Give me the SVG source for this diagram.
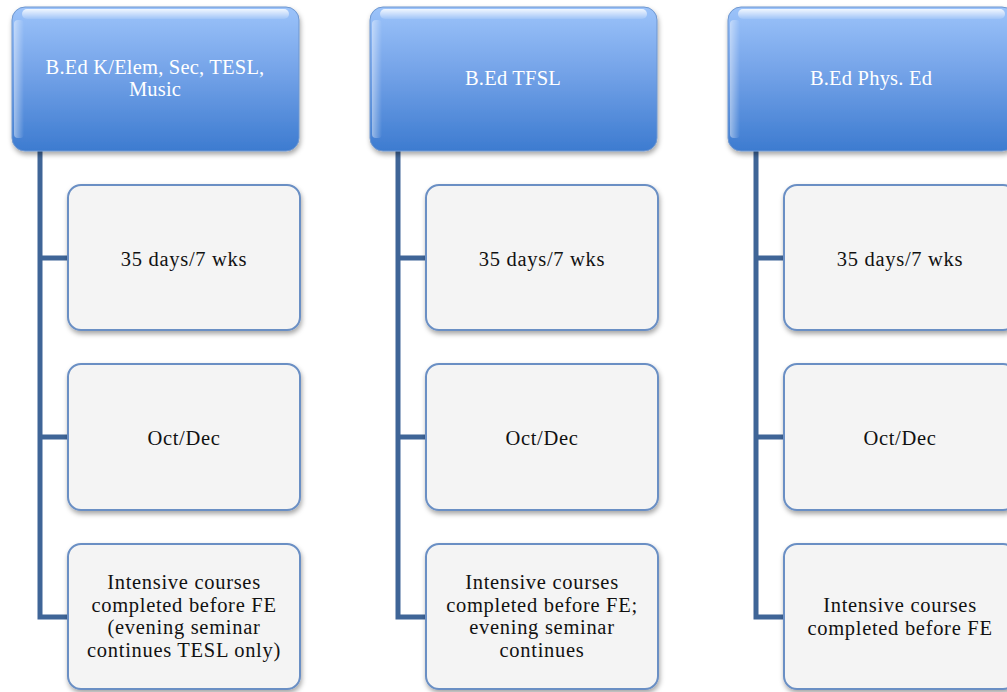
<svg xmlns="http://www.w3.org/2000/svg" width="1007" height="692" viewBox="0 0 1007 692">
  <defs>
    <linearGradient id="hdrFill" x1="0" y1="0" x2="0" y2="1">
      <stop offset="0" stop-color="#9cc3fa"/>
      <stop offset="0.45" stop-color="#74a3e8"/>
      <stop offset="1" stop-color="#3d7bd0"/>
    </linearGradient>
    <linearGradient id="gloss" x1="0" y1="0" x2="0" y2="1">
      <stop offset="0" stop-color="#ffffff" stop-opacity="0.85"/>
      <stop offset="1" stop-color="#ffffff" stop-opacity="0.1"/>
    </linearGradient>
    <linearGradient id="sideGloss" x1="0" y1="0" x2="1" y2="0">
      <stop offset="0" stop-color="#ffffff" stop-opacity="0.45"/>
      <stop offset="1" stop-color="#ffffff" stop-opacity="0"/>
    </linearGradient>
    <filter id="shadow" x="-10%" y="-10%" width="125%" height="130%">
      <feDropShadow dx="1" dy="3" stdDeviation="2.5" flood-color="#000000" flood-opacity="0.35"/>
    </filter>
  </defs>
  <style>
    .hdr { fill: url(#hdrFill); stroke: #6f97cf; stroke-width: 1; filter: url(#shadow); }
    .gl { fill: url(#gloss); }
    .sg { fill: url(#sideGloss); }
    .box { fill: #f4f4f4; stroke: #6a8fc4; stroke-width: 2; filter: url(#shadow); }
    .conn { fill: none; stroke: #3f6597; stroke-width: 5; }
    .ht { font-family: "Liberation Serif", "Times New Roman", serif; font-size: 20.5px; letter-spacing: 0.2px; fill: #ffffff; text-anchor: middle; }
    .bt { font-family: "Liberation Serif", "Times New Roman", serif; font-size: 20.5px; letter-spacing: 0.7px; fill: #111111; text-anchor: middle; }
  </style>

  <rect width="1007" height="692" fill="#ffffff"/>

  <!-- connectors: trunk from each header down to its three child boxes -->
  <g id="connectors">
    <path class="conn" d="M40 151 V617 H68 M40 258 H68 M40 437 H68"/>
    <path class="conn" d="M398 151 V617 H426 M398 258 H426 M398 437 H426"/>
    <path class="conn" d="M756 151 V617 H784 M756 258 H784 M756 437 H784"/>
  </g>

  <!-- column 1 -->
  <g id="hdr1">
    <rect class="hdr" x="12" y="7" width="287" height="144" rx="13"/>
    <rect class="gl" x="22" y="9" width="267" height="10" rx="5"/>
    <rect class="sg" x="14" y="20" width="10" height="118" rx="4"/>
    <text class="ht" x="155" y="74">B.Ed K/Elem, Sec, TESL,</text>
    <text class="ht" x="155" y="96">Music</text>
  </g>
  <g id="c1a">
    <rect class="box" x="68" y="185" width="232" height="145" rx="13"/>
    <text class="bt" x="184" y="266">35 days/7 wks</text>
  </g>
  <g id="c1b">
    <rect class="box" x="68" y="364" width="232" height="146" rx="13"/>
    <text class="bt" x="184" y="445">Oct/Dec</text>
  </g>
  <g id="c1c">
    <rect class="box" x="68" y="544" width="232" height="145" rx="13"/>
    <text class="bt" x="184" y="589">Intensive courses</text>
    <text class="bt" x="184" y="611.5">completed before FE</text>
    <text class="bt" x="184" y="634">(evening seminar</text>
    <text class="bt" x="184" y="656.5">continues TESL only)</text>
  </g>

  <!-- column 2 -->
  <g id="hdr2">
    <rect class="hdr" x="370" y="7" width="287" height="144" rx="13"/>
    <rect class="gl" x="380" y="9" width="267" height="10" rx="5"/>
    <rect class="sg" x="372" y="20" width="10" height="118" rx="4"/>
    <text class="ht" x="513" y="85">B.Ed TFSL</text>
  </g>
  <g id="c2a">
    <rect class="box" x="426" y="185" width="232" height="145" rx="13"/>
    <text class="bt" x="542" y="266">35 days/7 wks</text>
  </g>
  <g id="c2b">
    <rect class="box" x="426" y="364" width="232" height="146" rx="13"/>
    <text class="bt" x="542" y="445">Oct/Dec</text>
  </g>
  <g id="c2c">
    <rect class="box" x="426" y="544" width="232" height="145" rx="13"/>
    <text class="bt" x="542" y="589">Intensive courses</text>
    <text class="bt" x="542" y="611.5">completed before FE;</text>
    <text class="bt" x="542" y="634">evening seminar</text>
    <text class="bt" x="542" y="656.5">continues</text>
  </g>

  <!-- column 3 -->
  <g id="hdr3">
    <rect class="hdr" x="728" y="7" width="287" height="144" rx="13"/>
    <rect class="gl" x="738" y="9" width="267" height="10" rx="5"/>
    <rect class="sg" x="730" y="20" width="10" height="118" rx="4"/>
    <text class="ht" x="871" y="85">B.Ed Phys. Ed</text>
  </g>
  <g id="c3a">
    <rect class="box" x="784" y="185" width="232" height="145" rx="13"/>
    <text class="bt" x="900" y="266">35 days/7 wks</text>
  </g>
  <g id="c3b">
    <rect class="box" x="784" y="364" width="232" height="146" rx="13"/>
    <text class="bt" x="900" y="445">Oct/Dec</text>
  </g>
  <g id="c3c">
    <rect class="box" x="784" y="544" width="232" height="145" rx="13"/>
    <text class="bt" x="900" y="612">Intensive courses</text>
    <text class="bt" x="900" y="634.5">completed before FE</text>
  </g>
</svg>
